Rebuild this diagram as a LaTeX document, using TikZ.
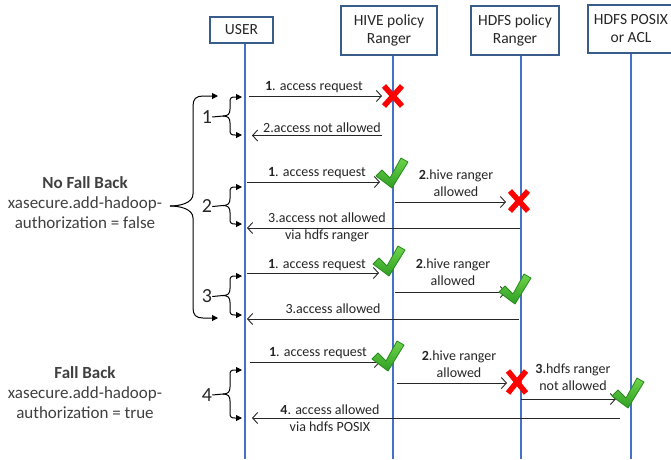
\documentclass[tikz,border=0pt]{standalone}
\usepackage{fontspec}
\setmainfont{Carlito}
\usetikzlibrary{arrows.meta}
\definecolor{boxline}{HTML}{385D8A}
\definecolor{lifeblue}{HTML}{4472C4}
\definecolor{txt}{HTML}{262626}
\definecolor{sidetxt}{HTML}{404040}
\definecolor{xred}{HTML}{FF0000}
\definecolor{oktop}{HTML}{6FD44C}
\definecolor{okbot}{HTML}{2E9E22}
\definecolor{okedge}{HTML}{268A1C}
\newcommand\stepbrace[4]{% #1 name, #2 top y, #3 bottom y, #4 digit
  \pgfmathsetmacro\bmid{(#2+#3)/2}%
  \node[num] (#1) at (207,{\bmid+1}) {#4};
  \coordinate (#1tip) at (223,\bmid);
  \coordinate (#1top) at (242,#2);
  \coordinate (#1bot) at (242,#3);
  \draw[line width=1pt] (#1.east) -- (#1tip);
  \draw[bracearrow] (#1tip) .. controls (228,\bmid) and (230,{\bmid-2}) .. (230,{\bmid-7})
     -- (230,{#2+5}) .. controls (230,{#2+1}) and (231,#2) .. (235,#2) -- (#1top);
  \draw[bracearrow] (#1tip) .. controls (228,\bmid) and (230,{\bmid+2}) .. (230,{\bmid+7})
     -- (230,{#3-5}) .. controls (230,{#3-1}) and (231,#3) .. (235,#3) -- (#1bot);
}
\begin{document}
\begin{tikzpicture}[x=1pt,y=-1pt,
  actor/.style={draw=boxline, line width=1.8pt, fill=white, inner sep=0pt, align=center,
    font=\fontsize{15.5}{18}\selectfont, text=txt},
  life/.style={draw=lifeblue, line width=1.4pt},
  msg/.style={draw=txt, line width=0.9pt, -{Straight Barb[length=5pt,width=11pt,line width=0.9pt]}},
  lab/.style={font=\fontsize{14}{17}\selectfont, text=txt, align=center, inner sep=0pt},
  bracearrow/.style={draw=black, line width=1pt, -{Triangle[length=6pt,width=6pt]}},
  side/.style={font=\fontsize{17}{20}\selectfont, text=sidetxt, align=center, inner sep=0pt},
  num/.style={font=\fontsize{20}{20}\selectfont, text=txt, inner sep=0pt},
  nomark/.style={draw=xred, line width=5.5pt},
  okmark/.pic={\draw[draw=okedge, top color=oktop, bottom color=okbot, line width=0.8pt, line join=round]
     (-15,-10) -- (-9,-16) -- (-1,-8) -- (10,-28) -- (17,-24) -- (1,2) -- cycle;}
]
\fill[white] (0,0) rectangle (671,459);
\useasboundingbox (0,0) rectangle (671,459);

% actors
\node[actor, minimum width=63pt, minimum height=26pt] (user) at (241.5,30) {USER};
\node[actor, minimum width=96pt, minimum height=49pt] (hive) at (389,30.5) {HIVE policy\\Ranger};
\node[actor, minimum width=88pt, minimum height=49pt] (hdfs) at (515,30.5) {HDFS policy\\Ranger};
\node[actor, minimum width=86pt, minimum height=48pt] (posix) at (631,29) {HDFS POSIX\\or ACL};

% lifelines
\coordinate (ubot) at (245,459);
\coordinate (hbot) at (393,459);
\coordinate (dbot) at (521,459);
\coordinate (pbot) at (631,459);
\draw[life] (user.south -| ubot) -- (ubot);
\draw[life] (hive.south -| hbot) -- (hbot);
\draw[life] (hdfs.south -| dbot) -- (dbot);
\draw[life] (posix.south -| pbot) -- (pbot);

% side labels
\node[side] (nofb) at (85,203) {\textbf{No Fall Back}\\xasecure.add-hadoop-\\authorization = false};
\node[side] (fb) at (85,393) {\textbf{Fall Back}\\xasecure.add-hadoop-\\authorization = true};

% big brace
\coordinate (bigtip) at (170,206);
\coordinate (bigtop) at (218,96);
\coordinate (bigbot) at (218,318);
\draw[bracearrow] (bigtip) .. controls (180,206) and (193,203) .. (193,194) -- (193,106)
   .. controls (193,99) and (196,96) .. (203,96) -- (bigtop);
\draw[bracearrow] (bigtip) .. controls (180,206) and (193,209) .. (193,218) -- (193,308)
   .. controls (193,315) and (196,318) .. (203,318) -- (bigbot);

% small braces
\stepbrace{b1}{97}{135}{1}
\stepbrace{b2}{187}{224}{2}
\stepbrace{b3}{276}{315}{3}
\stepbrace{b4}{370}{418}{4}

% group 1
\coordinate (g1a) at (249,96);  \coordinate (g1b) at (382,96);
\coordinate (g1c) at (382,135.5); \coordinate (g1d) at (252,135.5);
\draw[msg] (g1a) -- (g1b);
\draw[msg] (g1c) -- (g1d);
\node[lab] (l1a) at (314,87) {\textbf{1}. access request};
\node[lab] (l1b) at (322,128) {2.access not allowed};
\draw[nomark] (384,86) -- (402,106);
\draw[nomark] (402,86) -- (384,106);

% group 2
\coordinate (g2a) at (247,182); \coordinate (g2b) at (380,182);
\coordinate (g2c) at (395,202); \coordinate (g2d) at (506,202);
\coordinate (g2e) at (520,228); \coordinate (g2f) at (247,228);
\draw[msg] (g2a) -- (g2b);
\draw[msg] (g2c) -- (g2d);
\draw[msg] (g2e) -- (g2f);
\node[lab] (l2a) at (317,173) {\textbf{1}. access request};
\node[lab] (l2b) at (456,183.5) {\textbf{2}.hive ranger\\allowed};
\node[lab] (l2c) at (327,227) {3.access not allowed\\via hdfs ranger};
\pic (ok1) at (391,186) {okmark};
\draw[nomark] (510,191) -- (528,211);
\draw[nomark] (528,191) -- (510,211);

% group 3
\coordinate (g3a) at (247,273); \coordinate (g3b) at (379,273);
\coordinate (g3c) at (395,292); \coordinate (g3d) at (506,292);
\coordinate (g3e) at (519,319); \coordinate (g3f) at (247,319);
\draw[msg] (g3a) -- (g3b);
\draw[msg] (g3c) -- (g3d);
\draw[msg] (g3e) -- (g3f);
\node[lab] (l3a) at (317,265) {\textbf{1}. access request};
\node[lab] (l3b) at (453,272.5) {\textbf{2}.hive ranger\\allowed};
\node[lab] (l3c) at (333,309) {3.access allowed};
\pic (ok2) at (388,274) {okmark};
\pic (ok3) at (514,302) {okmark};

% group 4
\coordinate (g4a) at (250,362); \coordinate (g4b) at (380,362);
\coordinate (g4c) at (397,383); \coordinate (g4d) at (507,383);
\coordinate (g4e) at (521,399); \coordinate (g4f) at (616,399);
\coordinate (g4g) at (620,418); \coordinate (g4h) at (252,418);
\draw[msg] (g4a) -- (g4b);
\draw[msg] (g4c) -- (g4d);
\draw[msg] (g4e) -- (g4f);
\draw[msg] (g4g) -- (g4h);
\node[lab] (l4a) at (318,353) {\textbf{1}. access request};
\node[lab] (l4b) at (459,364.5) {\textbf{2}.hive ranger\\allowed};
\node[lab] (l4c) at (573,377.5) {\textbf{3}.hdfs ranger\\not allowed};
\node[lab] (l4d) at (330,418) {\textbf{4}. access allowed\\via hdfs POSIX};
\pic (ok4) at (387,369) {okmark};
\draw[nomark] (508,371) -- (526,393);
\draw[nomark] (526,371) -- (508,393);
\pic (ok5) at (627,406) {okmark};
\end{tikzpicture}
\end{document}
